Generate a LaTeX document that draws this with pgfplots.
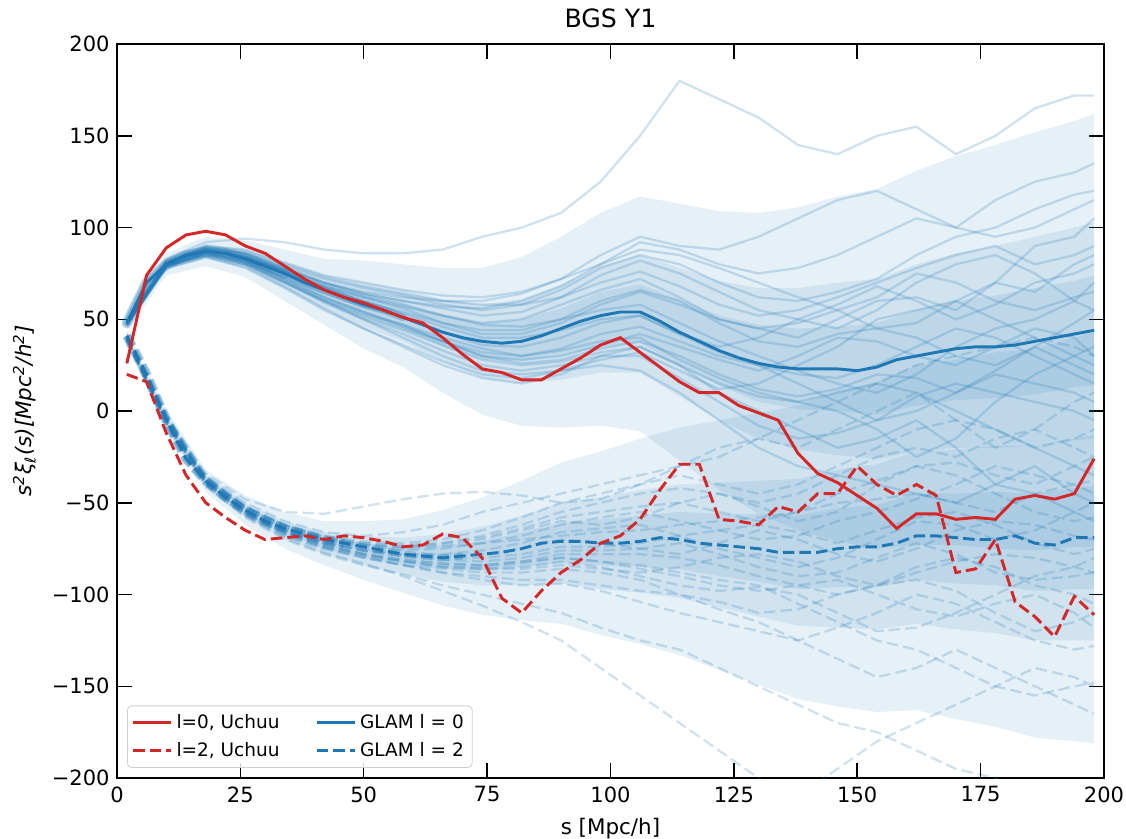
\documentclass[border=0pt]{standalone}
\usepackage{fontspec}
\setmainfont{DejaVu Sans}
\usepackage{pgfplots}
\usepackage{pgfplotstable}
\pgfplotsset{compat=1.18}
\usepgfplotslibrary{fillbetween}
\definecolor{tabblue}{RGB}{31,119,180}
\definecolor{tabred}{RGB}{214,39,40}

\pgfplotstableread{
s r0
2 26
6 74
10 89
14 96
18 98
22 96
26 90
30 86
34 79
38 72
42 66
46 62
50 59
54 55
58 51
62 48
66 40
70 31
74 23
78 21
82 17
86 17
90 23
94 29
98 36
102 40
106 32
110 24
114 16
118 10
122 10
126 3
130 -1
134 -5
138 -23
142 -34
146 -39
150 -46
154 -53
158 -64
162 -56
166 -56
170 -59
174 -58
178 -59
182 -48
186 -46
190 -48
194 -45
198 -26
}\uchuuA

\pgfplotstableread{
s r2
2 20
6 16
10 -12
14 -35
18 -50
22 -58
26 -65
30 -70
34 -69
38 -68
42 -70
46 -68
50 -69
54 -71
58 -74
62 -73
66 -67
70 -69
74 -80
78 -102
82 -110
86 -98
90 -88
94 -81
98 -72
102 -68
106 -59
110 -43
114 -29
118 -29
122 -59
126 -60
130 -62
134 -52
138 -55
142 -45
146 -45
150 -30
154 -40
158 -46
162 -40
166 -46
170 -88
174 -86
178 -70
182 -104
186 -112
190 -123
194 -101
198 -111
}\uchuuB

\pgfplotstableread{
s g0 g2
2 48 41
6 70 20
10 80 -5
14 85 -26
18 87 -38
22 86 -47
26 83 -54
30 79 -60
34 75 -64
38 70 -67
42 66 -70
46 62 -72
50 58 -74
54 55 -76
58 51 -78
62 47 -79
66 43 -80
70 40 -79
74 38 -78
78 37 -77
82 38 -75
86 41 -72
90 45 -71
94 49 -71
98 52 -72
102 54 -72
106 54 -71
110 49 -69
114 43 -70
118 38 -72
122 33 -73
126 29 -74
130 26 -75
134 24 -77
138 23 -77
142 23 -77
146 23 -75
150 22 -74
154 24 -74
158 28 -72
162 30 -68
166 32 -68
170 34 -69
174 35 -70
178 35 -70
182 36 -68
186 38 -72
190 40 -73
194 42 -69
198 44 -69
}\glam

\pgfplotstableread{
s  am2 am1 ah0 ah1 ap1 ap2 bm2 bm1 bh0 bh1 bp1 bp2
2   44  46  47  49  50  52   36   38   39   41  42  44
10  74  77  78  82  83  86  -11   -8   -6   -4  -2   1
18  79  83  85  89  91  95  -44  -41  -40  -36 -35 -32
26  73  78  80  86  88  93  -62  -58  -56  -52 -50 -46
34  60  67  71  78  81  88  -75  -70  -67  -62 -60 -55
42  47  56  60  70  74  83  -84  -78  -75  -69 -66 -60
50  34  46  52  64  70  82  -92  -84  -80  -72 -68 -60
58  24  38  45  59  66  80  -99  -89  -84  -74 -69 -59
66  10  27  35  53  61  78 -106  -93  -86  -73 -67 -54
74  -2  18  28  48  58  78 -111  -95  -87  -71 -63 -47
82  -8  15  27  50  61  84 -114  -95  -85  -66 -57 -38
90  -9  17  30  56  69  95 -116  -94  -83  -61 -50 -28
98  -8  21  35  65  79 108 -122  -97  -84  -59 -47 -22
106 -11 21  37  69  85 117 -127  -99  -85  -57 -43 -15
114 -27  8  25  61  78 113 -133 -102  -86  -55 -40  -9
122 -43 -5  14  52  71 109 -141 -107  -90  -56 -39  -5
130 -56 -15  5  47  67 108 -149 -112  -93  -56 -38  -1
138 -65 -21  1  45  67 111 -157 -117  -97  -57 -37   3
146 -71 -24  0  46  70 117 -161 -118  -96  -53 -32  11
154 -75 -26 -2  48  72 121 -164 -119  -96  -51 -29  16
162 -73 -22  3  55  80 131 -163 -116  -92  -45 -22  25
170 -73 -20  6  60  86 139 -168 -119  -94  -45 -21  28
178 -75 -20  7  63  90 145 -172 -121  -95  -44 -19  32
186 -76 -19  9  67  95 152 -178 -125  -98  -45 -19  34
194 -74 -16 13  71 100 158 -180 -125  -97  -42 -15  40
198 -74 -15 14  74 103 162 -181 -125  -97  -41 -13  43
}\bands

\pgfplotstableread{
s M1 M2 M3 M4 M5 M6 M7 M8 M9 M10 M11 M12 M13 M14 M15 M16 M17 M18 M19 M20 M21 M22
2 49 47 49 48 48 47 49 48 48 47 49 48 48 47 48 47 48 48 49 47 48 48
10 83 78 81 79 80 79 82 80 80 78 81 79 80 79 81 79 80 79 81 79 80 80
18 92 84 89 85 88 86 90 87 88 84 89 86 87 85 89 86 88 86 90 85 87 88
26 94 79 86 80 85 81 88 82 84 78 86 82 84 80 86 81 84 82 87 80 83 84
34 92 68 79 70 77 71 81 72 76 67 78 73 76 70 78 71 77 72 80 70 75 76
42 88 56 72 59 69 61 74 62 68 55 70 64 68 60 70 60 70 62 73 60 67 67
50 86 45 67 50 63 53 70 54 62 45 64 57 62 51 65 50 64 54 68 52 60 60
58 86 35 63 42 58 47 66 47 57 36 60 51 56 44 62 40 60 46 64 45 54 53
66 88 25 58 33 52 40 63 38 52 27 56 43 48 36 60 30 57 38 60 38 48 46
74 95 18 55 25 48 34 62 30 47 20 52 36 42 28 60 22 56 30 58 32 44 40
82 100 15 58 22 50 30 65 28 46 18 54 35 42 25 64 20 60 26 58 30 44 40
90 108 20 66 25 58 33 72 30 50 22 62 40 48 27 72 22 68 28 62 34 50 44
98 125 30 78 30 66 38 80 36 55 28 74 48 58 32 85 25 80 34 70 42 60 50
106 150 35 85 30 72 40 88 42 58 32 82 52 65 35 95 22 92 38 76 46 66 52
114 180 25 80 18 62 28 85 35 48 22 75 42 58 25 90 10 88 30 68 38 60 42
122 170 10 70 5 50 18 78 28 38 12 65 32 50 15 88 -5 80 20 58 30 48 35
130 160 0 62 -8 45 10 70 22 30 15 55 25 45 8 95 -20 75 12 52 25 38 40
138 145 -10 60 -15 40 5 62 30 22 25 50 15 48 5 105 -30 78 8 55 20 35 50
146 140 -20 65 -12 50 0 55 40 15 35 45 5 55 10 115 -35 85 12 62 18 42 58
154 150 -15 72 -5 60 -10 45 38 10 50 55 -5 62 15 120 -40 95 20 70 25 45 68
162 155 -5 85 8 62 -25 48 30 20 55 70 0 75 10 110 -45 105 18 78 35 40 60
170 140 -20 95 15 55 -15 60 25 35 60 80 10 70 0 100 -50 100 10 85 45 30 50
178 150 -40 100 10 70 5 70 35 45 50 85 20 60 -10 115 -40 95 22 90 40 25 58
186 165 -30 110 5 90 20 65 45 50 40 75 15 55 -20 125 -45 100 35 80 30 35 70
194 172 -45 118 0 95 30 80 40 60 30 60 10 62 -30 130 -55 110 25 85 20 48 75
198 172 -50 120 -5 105 35 85 30 70 25 55 5 65 -35 135 -60 115 20 90 15 55 80
}\mocksA

\pgfplotstableread{
s N1 N2 N3 N4 N5 N6 N7 N8 N9 N10 N11 N12 N13 N14 N15 N16 N17 N18 N19 N20 N21 N22
2 42 38 41 39 40 40 41 39 40 40 41 39 40 40 39 41 40 40 40 39 41 40
10 -2 -8 -4 -6 -5 -5 -3 -7 -4 -5 -3 -6 -5 -5 -7 -2 -4 -5 -5 -6 -3 -5
18 -35 -41 -37 -39 -38 -39 -36 -40 -37 -38 -36 -39 -38 -38 -40 -34 -37 -38 -38 -39 -36 -38
26 -50 -58 -52 -56 -54 -55 -52 -57 -53 -55 -52 -56 -54 -54 -57 -48 -53 -55 -54 -56 -52 -55
34 -60 -70 -62 -68 -64 -66 -63 -68 -64 -66 -62 -67 -65 -65 -69 -55 -63 -66 -65 -67 -62 -66
42 -66 -78 -69 -75 -71 -73 -70 -75 -71 -73 -68 -74 -72 -72 -77 -56 -70 -74 -72 -74 -69 -73
50 -68 -84 -72 -80 -74 -78 -73 -80 -75 -77 -71 -79 -76 -76 -83 -52 -73 -79 -76 -78 -72 -78
58 -66 -89 -74 -84 -76 -82 -74 -84 -78 -81 -72 -82 -78 -79 -90 -48 -75 -84 -79 -81 -73 -82
66 -62 -95 -73 -88 -75 -85 -72 -86 -78 -83 -70 -84 -79 -81 -98 -45 -74 -88 -80 -83 -72 -85
74 -55 -100 -70 -92 -72 -86 -68 -88 -76 -84 -65 -85 -78 -82 -106 -44 -72 -90 -80 -84 -69 -86
82 -50 -105 -65 -95 -68 -85 -62 -88 -72 -82 -58 -83 -75 -80 -115 -46 -70 -92 -78 -82 -64 -86
90 -45 -110 -60 -94 -62 -82 -55 -86 -66 -78 -50 -80 -70 -76 -125 -50 -68 -92 -74 -80 -58 -84
98 -40 -118 -62 -98 -58 -85 -50 -88 -64 -78 -45 -82 -72 -76 -140 -48 -66 -95 -74 -82 -55 -86
106 -35 -125 -58 -104 -55 -90 -45 -92 -62 -78 -40 -84 -75 -75 -155 -40 -65 -98 -72 -86 -52 -88
114 -30 -130 -50 -110 -60 -95 -42 -100 -68 -80 -35 -88 -78 -72 -170 -30 -62 -100 -68 -90 -50 -85
122 -25 -140 -45 -115 -65 -98 -45 -108 -75 -84 -40 -92 -72 -78 -185 -20 -60 -104 -65 -95 -55 -80
130 -15 -150 -52 -120 -70 -96 -50 -115 -80 -90 -45 -95 -65 -85 -200 -15 -58 -110 -62 -98 -60 -78
138 -5 -160 -60 -125 -68 -100 -45 -125 -85 -95 -40 -105 -70 -90 -210 -20 -55 -108 -66 -95 -55 -82
146 5 -170 -55 -118 -60 -110 -35 -135 -80 -100 -30 -115 -78 -88 -195 -10 -50 -100 -72 -92 -45 -90
154 15 -175 -40 -110 -55 -120 -25 -145 -70 -95 -20 -125 -82 -80 -180 0 -48 -95 -65 -100 -38 -95
162 25 -185 -30 -100 -48 -118 -20 -140 -60 -85 -10 -130 -75 -72 -170 10 -45 -92 -58 -108 -30 -88
170 30 -195 -35 -105 -40 -110 -25 -130 -62 -80 -5 -140 -65 -78 -160 -5 -50 -98 -55 -112 -28 -82
178 35 -200 -45 -115 -30 -100 -15 -140 -70 -85 -10 -150 -60 -88 -150 -20 -55 -110 -62 -105 -35 -78
186 40 -210 -55 -125 -35 -90 -10 -150 -65 -95 -20 -155 -62 -92 -140 -10 -45 -120 -72 -100 -40 -80
194 35 -215 -60 -130 -40 -85 -20 -160 -55 -100 -15 -150 -68 -90 -145 5 -40 -115 -78 -110 -30 -85
198 30 -215 -58 -128 -45 -80 -25 -165 -50 -105 -10 -148 -70 -88 -150 10 -38 -110 -75 -118 -25 -88
}\mocksB

\begin{document}
\begin{tikzpicture}
\begin{axis}[
  scale only axis,
  width=470pt, height=349.5pt,
  xmin=0, xmax=200, ymin=-200, ymax=200,
  xtick={0,25,50,75,100,125,150,175,200},
  xticklabels={0,25,50,75,100,125,150,175,200},
  ytick={-200,-150,-100,-50,0,50,100,150,200},
  yticklabels={−200,−150,−100,−50,0,50,100,150,200},
  tick align=inside,
  major tick length=7pt,
  tick style={black, line width=0.7pt},
  axis line style={line width=0.8pt},
  tick label style={font=\fontsize{10}{12}\selectfont},
  xticklabel style={yshift=-0.5pt},
  /pgf/number format/assume math mode=true,
  title={BGS Y1},
  title style={font=\fontsize{12}{14}\selectfont, at={(axis description cs:0.5,1)}, anchor=south, inner sep=0pt, yshift=1.6pt},
  xlabel={s [Mpc/h]},
  xlabel style={font=\fontsize{10.2}{12}\selectfont, at={(axis description cs:0.5,0)}, anchor=base, yshift=-27pt},
  ylabel={\itshape s\textsuperscript{2}ξ\textsubscript{ℓ}(s)[Mpc\textsuperscript{2}/h\textsuperscript{2}]},
  ylabel style={font=\fontsize{10.2}{12}\selectfont, at={(axis description cs:-0.0936,0.5)}, anchor=center},
  legend columns=2,
  legend cell align=left,
  legend image code/.code={\draw[#1] (0pt,0pt) -- (18pt,0pt);},
  legend style={font=\fontsize{8.8}{10}\selectfont, at={(axis description cs:0.0102,0.0137)}, anchor=south west,
    draw=black!18, rounded corners=2pt, fill=white, fill opacity=0.8, text opacity=1,
    inner xsep=2pt, inner ysep=2pt, row sep=1pt,
    /tikz/every even column/.append style={column sep=15pt}},
  mock0/.style={tabblue, opacity=0.21, line width=1.1pt, line join=round},
  mock2/.style={tabblue, opacity=0.21, line width=1.1pt, line join=round, dash pattern=on 5.5pt off 2.4pt},
  band/.style={tabblue, fill opacity=0.11, draw=none, forget plot},
]
% density bands of the mock ensemble
\addplot[name path=A2u, draw=none, forget plot] table[x=s,y=ap2]{\bands};
\addplot[name path=A2l, draw=none, forget plot] table[x=s,y=am2]{\bands};
\addplot[name path=A1u, draw=none, forget plot] table[x=s,y=ap1]{\bands};
\addplot[name path=A1l, draw=none, forget plot] table[x=s,y=am1]{\bands};
\addplot[name path=A0u, draw=none, forget plot] table[x=s,y=ah1]{\bands};
\addplot[name path=A0l, draw=none, forget plot] table[x=s,y=ah0]{\bands};
\addplot[name path=B2u, draw=none, forget plot] table[x=s,y=bp2]{\bands};
\addplot[name path=B2l, draw=none, forget plot] table[x=s,y=bm2]{\bands};
\addplot[name path=B1u, draw=none, forget plot] table[x=s,y=bp1]{\bands};
\addplot[name path=B1l, draw=none, forget plot] table[x=s,y=bm1]{\bands};
\addplot[name path=B0u, draw=none, forget plot] table[x=s,y=bh1]{\bands};
\addplot[name path=B0l, draw=none, forget plot] table[x=s,y=bh0]{\bands};
\addplot[band] fill between[of=A2u and A2l];
\addplot[band] fill between[of=A1u and A1l];
\addplot[band] fill between[of=A0u and A0l];
\addplot[band] fill between[of=B2u and B2l];
\addplot[band] fill between[of=B1u and B1l];
\addplot[band] fill between[of=B0u and B0l];
% dense core of the ensemble at small separations
\addplot[tabblue, opacity=0.3, line width=5pt, line join=round, line cap=round, restrict x to domain=0:34, forget plot] table[x=s,y=g0]{\glam};
\addplot[tabblue, opacity=0.3, line width=3.5pt, line join=round, line cap=round, restrict x to domain=0:58, forget plot] table[x=s,y=g0]{\glam};
\addplot[tabblue, opacity=0.35, line width=4.5pt, line join=round, dash pattern=on 5.5pt off 2.4pt, restrict x to domain=0:46, forget plot] table[x=s,y=g2]{\glam};
\addplot[tabblue, opacity=0.3, line width=3.5pt, line join=round, dash pattern=on 5.5pt off 2.4pt, restrict x to domain=0:70, forget plot] table[x=s,y=g2]{\glam};
% individual mocks
\pgfplotsinvokeforeach{1,...,22}{
  \addplot[mock0, forget plot] table[x=s,y=M#1]{\mocksA};
  \addplot[mock2, forget plot] table[x=s,y=N#1]{\mocksB};
}
% GLAM means
\addplot[tabblue, line width=1.4pt, forget plot] table[x=s,y=g0]{\glam};
\addplot[tabblue, line width=1.4pt, dash pattern=on 5.5pt off 2.4pt, forget plot] table[x=s,y=g2]{\glam};
% Uchuu
\addplot[tabred, line width=1.4pt, forget plot] table[x=s,y=r0]{\uchuuA};
\addplot[tabred, line width=1.4pt, dash pattern=on 5.5pt off 2.4pt, forget plot] table[x=s,y=r2]{\uchuuB};
% legend
\addlegendimage{tabred, line width=1.4pt}
\addlegendentry{l=0, Uchuu}
\addlegendimage{tabblue, line width=1.4pt}
\addlegendentry{GLAM l = 0}
\addlegendimage{tabred, line width=1.4pt, dash pattern=on 5.5pt off 2.4pt}
\addlegendentry{l=2, Uchuu}
\addlegendimage{tabblue, line width=1.4pt, dash pattern=on 5.5pt off 2.4pt}
\addlegendentry{GLAM l = 2}
\end{axis}
\pgfresetboundingbox
\path (-55.7pt,-29pt) rectangle (480.5pt,370.5pt);
\end{tikzpicture}
\end{document}
